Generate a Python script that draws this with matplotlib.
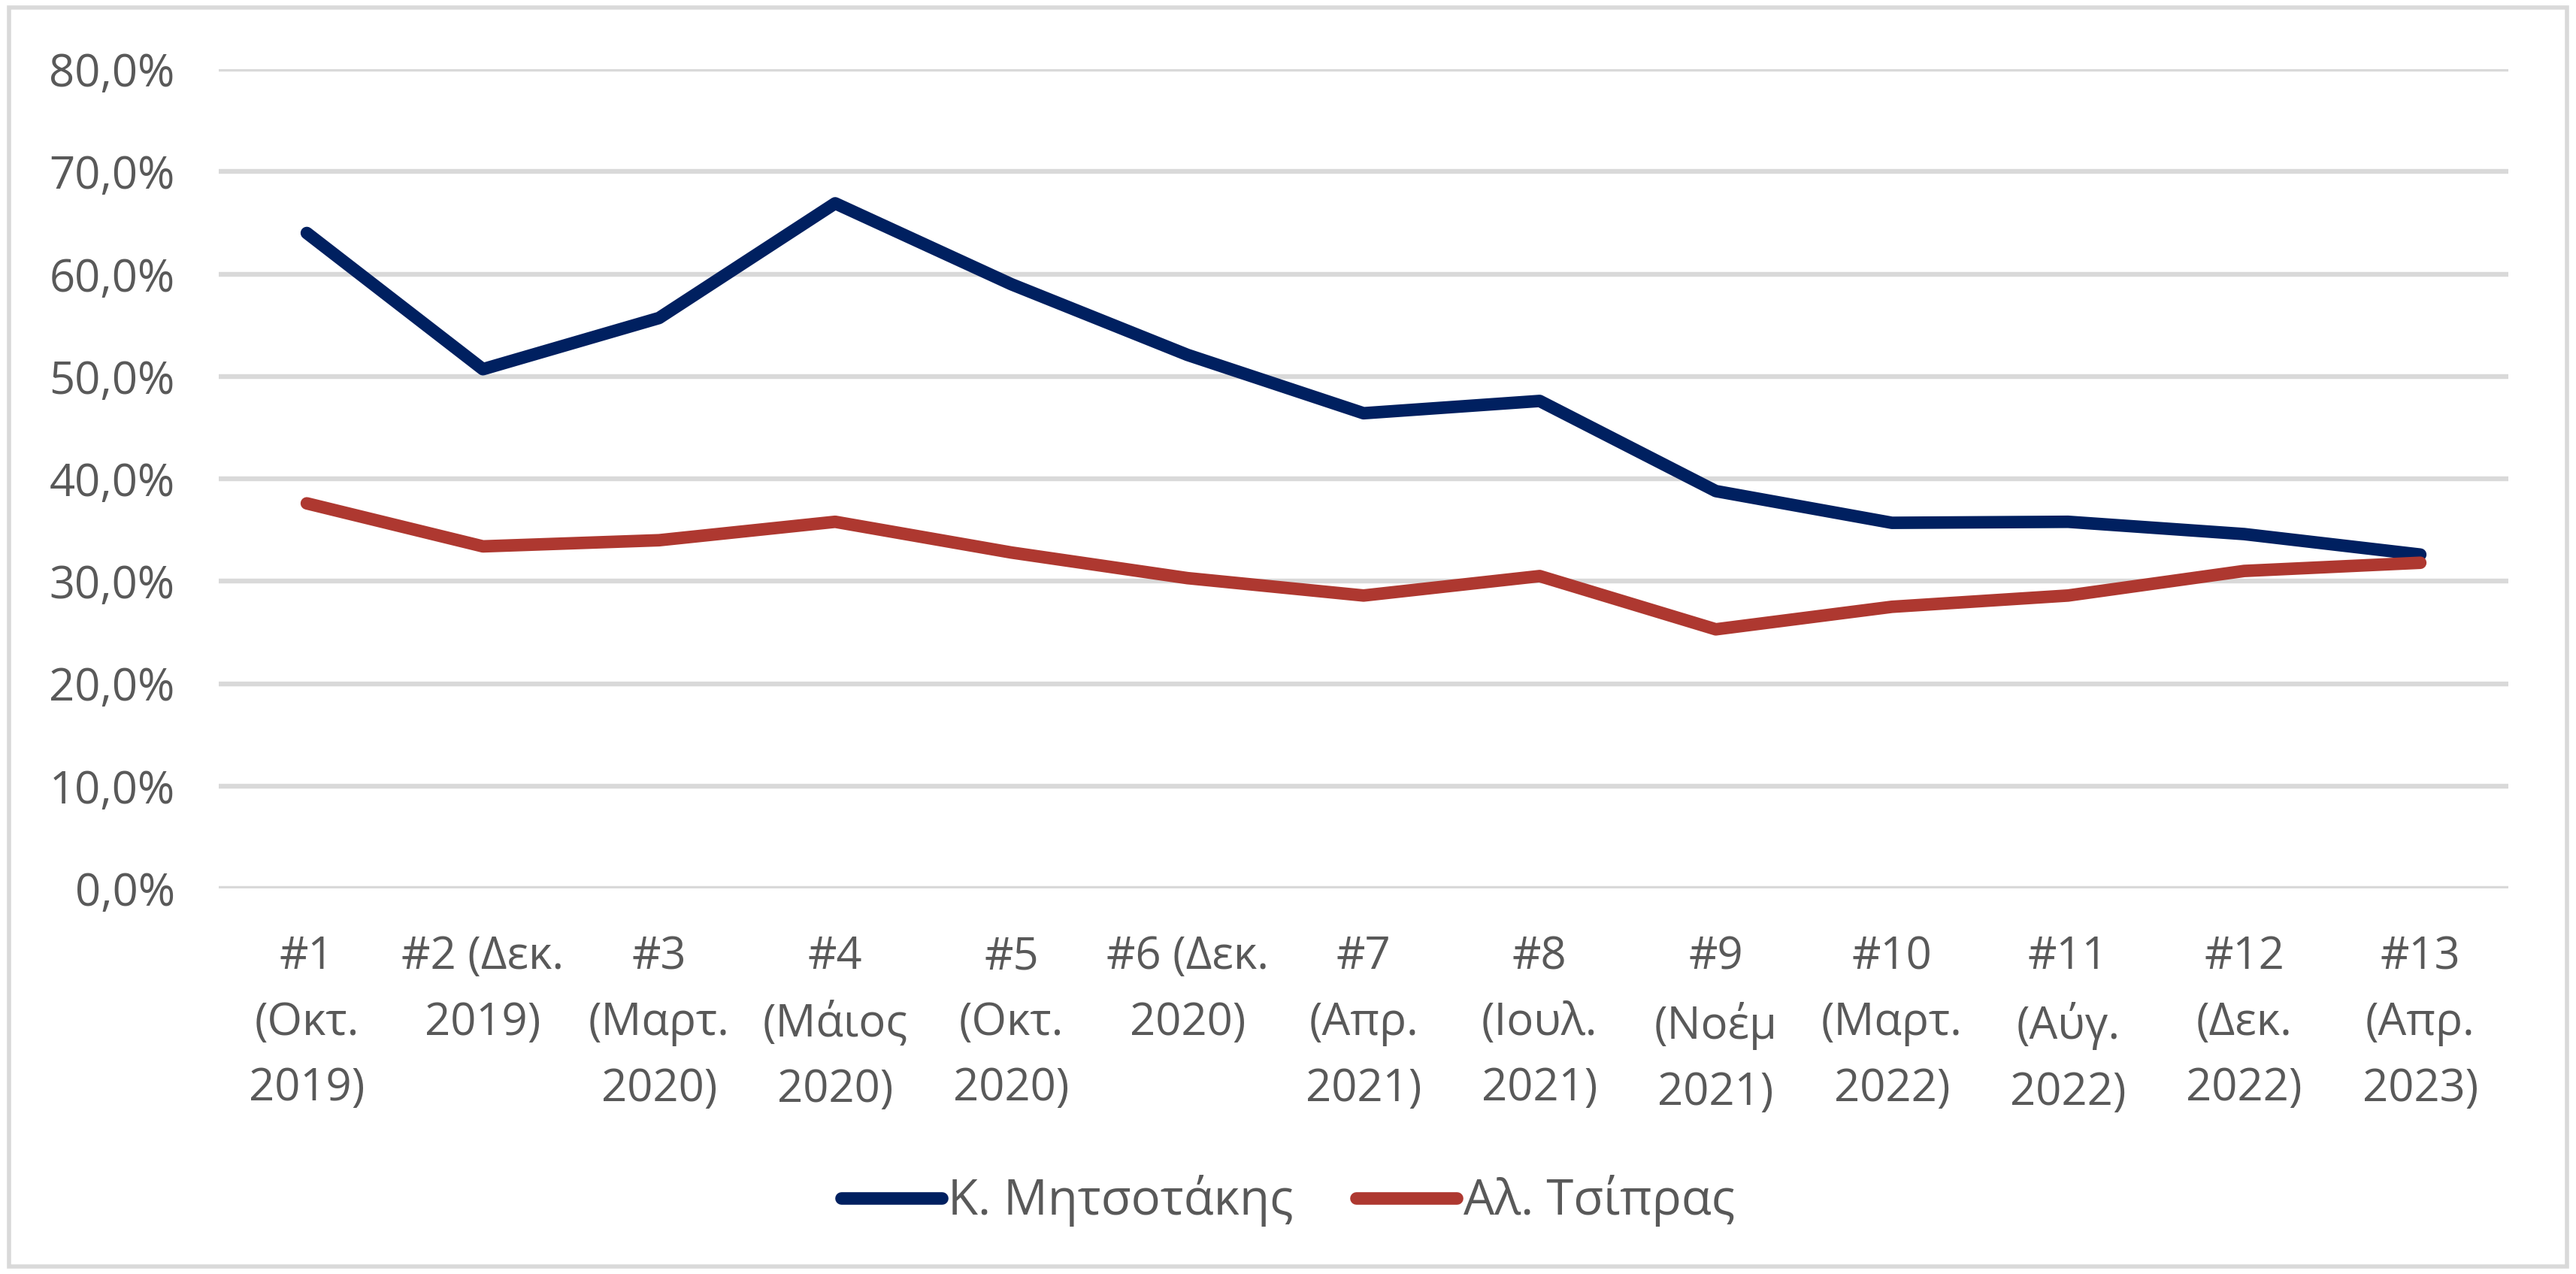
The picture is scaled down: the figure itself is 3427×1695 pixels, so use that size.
import matplotlib
matplotlib.use("Agg")
import matplotlib.pyplot as plt
from matplotlib.patches import Rectangle
from matplotlib.ticker import FuncFormatter

plt.rcParams['font.family'] = ['Open Sans', 'DejaVu Sans']

categories = [
    "#1\n(Οκτ.\n2019)", "#2 (Δεκ.\n2019)", "#3\n(Μαρτ.\n2020)", "#4\n(Μάιος\n2020)",
    "#5\n(Οκτ.\n2020)", "#6 (Δεκ.\n2020)", "#7\n(Απρ.\n2021)", "#8\n(Ιουλ.\n2021)",
    "#9\n(Νοέμ\n2021)", "#10\n(Μαρτ.\n2022)", "#11\n(Αύγ.\n2022)", "#12\n(Δεκ.\n2022)",
    "#13\n(Απρ.\n2023)",
]
mitsotakis = [64.0, 50.7, 55.7, 66.9, 59.0, 52.1, 46.4, 47.6, 38.8, 35.7, 35.8, 34.6, 32.6]
tsipras = [37.6, 33.4, 34.0, 35.8, 32.8, 30.3, 28.6, 30.5, 25.3, 27.5, 28.6, 31.0, 31.8]
series_names = ["Κ. Μητσοτάκης", "Αλ. Τσίπρας"]
yticks = [0, 10, 20, 30, 40, 50, 60, 70, 80]

W, H, DPI = 3427, 1695, 200
fig = plt.figure(figsize=(W / DPI, H / DPI), dpi=DPI)
fig.patch.set_facecolor("white")

# outer chart border
fig.add_artist(Rectangle((12 / W, 10 / H), 1 - 24 / W, 1 - 20 / H, transform=fig.transFigure,
                         fill=False, edgecolor="#D9D9D9", linewidth=2.0))

left, right = 291 / W, 3337 / W
bottom, top = 1 - 1182 / H, 1 - 92 / H
ax = fig.add_axes([left, bottom, right - left, top - bottom])

x = list(range(len(categories)))
blue = "#002060"
red = "#AE3830"
lw = 6.0
ax.plot(x, mitsotakis, color=blue, lw=lw, solid_capstyle="round", solid_joinstyle="round",
        label=series_names[0], zorder=3)
ax.plot(x, tsipras, color=red, lw=lw, solid_capstyle="round", solid_joinstyle="round",
        label=series_names[1], zorder=3)

ax.set_xlim(-0.5, len(categories) - 0.5)
ax.set_ylim(0, 80)
ax.set_yticks(yticks)
ax.yaxis.set_major_formatter(FuncFormatter(lambda v, p: f"{v:.1f}%".replace(".", ",")))
ax.set_xticks(x)
ax.set_xticklabels(categories, linespacing=1.6, va="top", ha="center")

for s in ax.spines.values():
    s.set_visible(False)
ax.grid(axis="y", color="#D9D9D9", linewidth=2.3, zorder=0)
ax.set_axisbelow(True)
ax.tick_params(axis="both", length=0, labelsize=21.5, labelcolor="#595959")
ax.tick_params(axis="y", pad=21)
ax.tick_params(axis="x", pad=22)

handles, labels = ax.get_legend_handles_labels()
leg = fig.legend(handles, labels, loc="center", bbox_to_anchor=(0.5, 1 - 1598 / H), ncol=2,
                 frameon=False, fontsize=23.5, handlelength=2.05, handletextpad=0.13,
                 columnspacing=1.28, labelcolor="#595959")
for l in leg.get_lines():
    l.set_linewidth(lw)
    l.set_solid_capstyle("round")

fig.savefig("out.png", dpi=DPI, facecolor="white")
